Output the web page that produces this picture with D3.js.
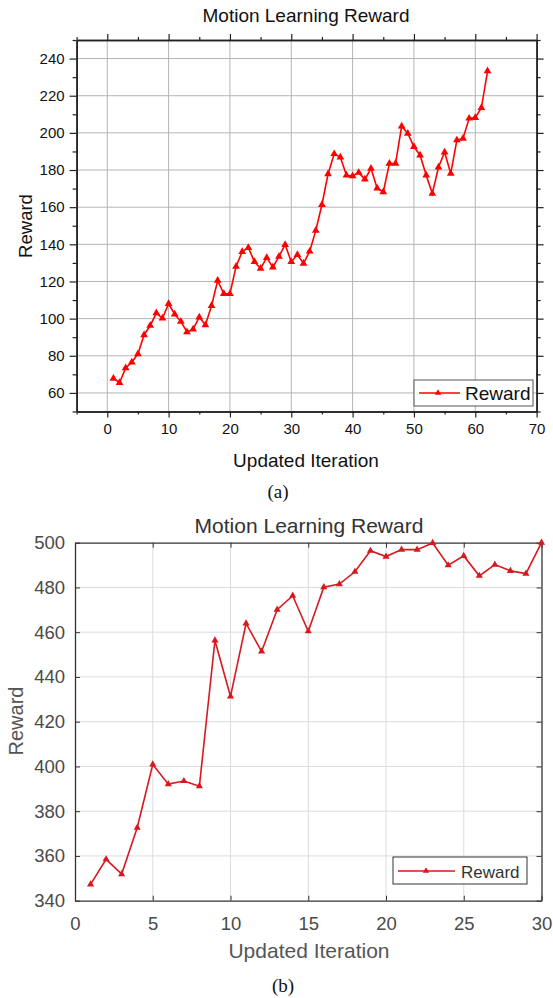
<!DOCTYPE html>
<html>
<head>
<meta charset="utf-8">
<script src="https://cdn.jsdelivr.net/npm/d3@7"></script>
<style>
  body { margin: 0; background: #fff; }
  svg { display: block; }
  .a text { font-family: "Liberation Sans", Arial, sans-serif; }
  .b text { font-family: "Liberation Sans", Arial, sans-serif; }
</style>
</head>
<body>
<svg id="chart" width="553" height="998"></svg>
<script>
// Chart (a) data: 62 updated iterations
var iterA = d3.range(1, 63);
var rewardA = [67.8, 65.5, 73.4, 76.5, 81, 91.2, 96.3, 103, 100.2, 108,
    102.4, 98.4, 92.8, 94.3, 100.8, 96.6, 106.9, 120.5, 113.4, 113.4,
    128.1, 136, 138.2, 130.6, 127, 132.8, 127.7, 133.5, 139.8, 130.6,
    134.4, 129.7, 136.2, 147.5, 161.3, 177.9, 188.7, 186.9, 177.2, 176.8,
    178.6, 175, 180.8, 170.2, 168.2, 183.5, 183.5, 203.6, 199.7, 192.5,
    188, 177.2, 167.3, 181.5, 189.6, 178.1, 196.1, 197, 207.8, 208.2,
    213.5, 233.3];
var xTicksA = [0, 10, 20, 30, 40, 50, 60, 70];
var xMinorA = [-5, 5, 15, 25, 35, 45, 55, 65];
var yTicksA = [60, 80, 100, 120, 140, 160, 180, 200, 220, 240];
var yMinorA = [50, 70, 90, 110, 130, 150, 170, 190, 210, 230, 250];

// Chart (b) data: 30 updated iterations
var iterB = d3.range(1, 31);
var rewardB = [347.3, 358.5, 351.9, 372.6, 400.9, 392.1, 393.5, 391.2, 456.3, 431.3,
    463.9, 451.4, 470.1, 476.3, 460.4, 480.1, 481.5, 487, 496.4, 493.8,
    496.9, 496.9, 499.9, 489.9, 494.1, 485.2, 490.2, 487.4, 486.2, 500];
var xTicksB = [0, 5, 10, 15, 20, 25, 30];
var yTicksB = [340, 360, 380, 400, 420, 440, 460, 480, 500];

var svg = d3.select("#chart");
var tri = d3.symbol().type(d3.symbolTriangle);

/**** Chart (a) ****/
var a = svg.append("g").attr("class", "a");
var xA = d3.scaleLinear().domain([-5, 70]).range([76.6, 536.6]);
var yA = d3.scaleLinear().domain([50, 250]).range([411.5, 40]);

// grid
a.append("g").selectAll("line").data(xTicksA.filter(function(d) { return d > -5 && d < 70; }))
    .enter().append("line")
    .attr("x1", function(d) { return xA(d); }).attr("x2", function(d) { return xA(d); })
    .attr("y1", yA(250)).attr("y2", yA(50))
    .attr("stroke", "#b4b4b4").attr("stroke-width", 1);
a.append("g").selectAll("line").data(yTicksA)
    .enter().append("line")
    .attr("x1", xA(-5)).attr("x2", xA(70))
    .attr("y1", function(d) { return yA(d); }).attr("y2", function(d) { return yA(d); })
    .attr("stroke", "#b4b4b4").attr("stroke-width", 1);

// axes: all four sides, ticks pointing outward
function styleA(g) {
    g.selectAll("path").attr("stroke", "#222").attr("stroke-width", 1.5);
    g.selectAll("line").attr("stroke", "#222").attr("stroke-width", 1.2);
    g.selectAll("text").attr("fill", "#111").style("font-size", "15px");
}
a.append("g").attr("transform", "translate(0," + yA(50) + ")")
    .call(d3.axisBottom(xA).tickValues(xTicksA).tickSize(6).tickSizeOuter(0).tickPadding(6))
    .call(styleA);
a.append("g").attr("transform", "translate(0," + yA(50) + ")")
    .call(d3.axisBottom(xA).tickValues(xMinorA).tickSize(3).tickSizeOuter(0).tickFormat(""))
    .call(styleA);
a.append("g").attr("transform", "translate(0," + yA(250) + ")")
    .call(d3.axisTop(xA).tickValues(xTicksA).tickSize(6).tickSizeOuter(0).tickFormat(""))
    .call(styleA);
a.append("g").attr("transform", "translate(0," + yA(250) + ")")
    .call(d3.axisTop(xA).tickValues(xMinorA).tickSize(3).tickSizeOuter(0).tickFormat(""))
    .call(styleA);
a.append("g").attr("transform", "translate(" + xA(-5) + ",0)")
    .call(d3.axisLeft(yA).tickValues(yTicksA).tickSize(7).tickSizeOuter(0).tickPadding(5))
    .call(styleA);
a.append("g").attr("transform", "translate(" + xA(-5) + ",0)")
    .call(d3.axisLeft(yA).tickValues(yMinorA).tickSize(4).tickSizeOuter(0).tickFormat(""))
    .call(styleA);
a.append("g").attr("transform", "translate(" + xA(70) + ",0)")
    .call(d3.axisRight(yA).tickValues(yTicksA).tickSize(7).tickSizeOuter(0).tickFormat(""))
    .call(styleA);
a.append("g").attr("transform", "translate(" + xA(70) + ",0)")
    .call(d3.axisRight(yA).tickValues(yMinorA).tickSize(4).tickSizeOuter(0).tickFormat(""))
    .call(styleA);

// line + markers
a.append("path").datum(iterA)
    .attr("fill", "none").attr("stroke", "#ff0000").attr("stroke-width", 1.6)
    .attr("d", d3.line().x(function(d) { return xA(d); }).y(function(d, i) { return yA(rewardA[i]); }));
a.append("g").selectAll("path").data(iterA).enter().append("path")
    .attr("d", tri.size(26))
    .attr("transform", function(d, i) { return "translate(" + xA(d) + "," + yA(rewardA[i]) + ")"; })
    .attr("fill", "#ff0000");

// legend
var legA = a.append("g");
legA.append("rect").attr("x", 414).attr("y", 380).attr("width", 119).attr("height", 26)
    .attr("fill", "#fff").attr("stroke", "#555").attr("stroke-width", 1);
legA.append("line").attr("x1", 419).attr("x2", 460).attr("y1", 393).attr("y2", 393)
    .attr("stroke", "#ff0000").attr("stroke-width", 1.6);
legA.append("path").attr("d", tri.size(18)).attr("transform", "translate(438,393)").attr("fill", "#ff0000");
legA.append("text").attr("x", 465).attr("y", 400).text("Reward")
    .style("font-size", "19px").attr("fill", "#111");

// titles
a.append("text").attr("x", 306).attr("y", 22).attr("text-anchor", "middle")
    .style("font-size", "19px").attr("fill", "#111").text("Motion Learning Reward");
a.append("text").attr("x", 306).attr("y", 467).attr("text-anchor", "middle")
    .style("font-size", "19px").attr("fill", "#111").text("Updated Iteration");
a.append("text").attr("transform", "translate(32,226) rotate(-90)").attr("text-anchor", "middle")
    .style("font-size", "18.5px").attr("fill", "#111").text("Reward");
svg.append("text").attr("x", 278).attr("y", 498).attr("text-anchor", "middle")
    .style("font-family", "'Liberation Serif', 'Times New Roman', serif")
    .style("font-size", "19px").attr("fill", "#111").text("(a)");

/**** Chart (b) ****/
var b = svg.append("g").attr("class", "b");
var xB = d3.scaleLinear().domain([0, 30]).range([75, 541.5]);
var yB = d3.scaleLinear().domain([340, 500]).range([900.7, 542.7]);

b.append("g").selectAll("line").data(xTicksB.slice(1, -1))
    .enter().append("line")
    .attr("x1", function(d) { return xB(d); }).attr("x2", function(d) { return xB(d); })
    .attr("y1", yB(500)).attr("y2", yB(340))
    .attr("stroke", "#dcdcdc").attr("stroke-width", 1);
b.append("g").selectAll("line").data(yTicksB.slice(1, -1))
    .enter().append("line")
    .attr("x1", xB(0)).attr("x2", xB(30))
    .attr("y1", function(d) { return yB(d); }).attr("y2", function(d) { return yB(d); })
    .attr("stroke", "#dcdcdc").attr("stroke-width", 1);

// axes: ticks pointing inward
function styleB(g) {
    g.selectAll("path").attr("stroke", "#333").attr("stroke-width", 1.3);
    g.selectAll("line").attr("stroke", "#333").attr("stroke-width", 1);
    g.selectAll("text").attr("fill", "#4a4a4a").style("font-size", "18.5px");
}
b.append("g").attr("transform", "translate(0," + yB(340) + ")")
    .call(d3.axisBottom(xB).tickValues(xTicksB).tickSize(-5).tickSizeOuter(0).tickPadding(16))
    .call(styleB);
b.append("g").attr("transform", "translate(0," + yB(500) + ")")
    .call(d3.axisTop(xB).tickValues(xTicksB).tickSize(-5).tickSizeOuter(0).tickFormat(""))
    .call(styleB);
b.append("g").attr("transform", "translate(" + xB(0) + ",0)")
    .call(d3.axisLeft(yB).tickValues(yTicksB).tickSize(-5).tickSizeOuter(0).tickPadding(10))
    .call(styleB);
b.append("g").attr("transform", "translate(" + xB(30) + ",0)")
    .call(d3.axisRight(yB).tickValues(yTicksB).tickSize(-5).tickSizeOuter(0).tickFormat(""))
    .call(styleB);

b.append("path").datum(iterB)
    .attr("fill", "none").attr("stroke", "#d7191f").attr("stroke-width", 1.6)
    .attr("d", d3.line().x(function(d) { return xB(d); }).y(function(d, i) { return yB(rewardB[i]); }));
b.append("g").selectAll("path").data(iterB).enter().append("path")
    .attr("d", tri.size(22))
    .attr("transform", function(d, i) { return "translate(" + xB(d) + "," + yB(rewardB[i]) + ")"; })
    .attr("fill", "#d7191f");

var legB = b.append("g");
legB.append("rect").attr("x", 393).attr("y", 857).attr("width", 134).attr("height", 27)
    .attr("fill", "#fff").attr("stroke", "#333").attr("stroke-width", 1);
legB.append("line").attr("x1", 398).attr("x2", 455).attr("y1", 871).attr("y2", 871)
    .attr("stroke", "#d7191f").attr("stroke-width", 1.4);
legB.append("path").attr("d", tri.size(18)).attr("transform", "translate(426,871)").attr("fill", "#d7191f");
legB.append("text").attr("x", 461).attr("y", 877.5).text("Reward")
    .style("font-size", "17px").attr("fill", "#333");

b.append("text").attr("x", 309).attr("y", 533).attr("text-anchor", "middle")
    .style("font-size", "21px").attr("fill", "#333").text("Motion Learning Reward");
b.append("text").attr("x", 309).attr("y", 958).attr("text-anchor", "middle")
    .style("font-size", "21px").attr("fill", "#555").text("Updated Iteration");
b.append("text").attr("transform", "translate(23,721) rotate(-90)").attr("text-anchor", "middle")
    .style("font-size", "20px").attr("fill", "#555").text("Reward");
svg.append("text").attr("x", 283).attr("y", 992).attr("text-anchor", "middle")
    .style("font-family", "'Liberation Serif', 'Times New Roman', serif")
    .style("font-size", "19px").attr("fill", "#111").text("(b)");
</script>
</body>
</html>
